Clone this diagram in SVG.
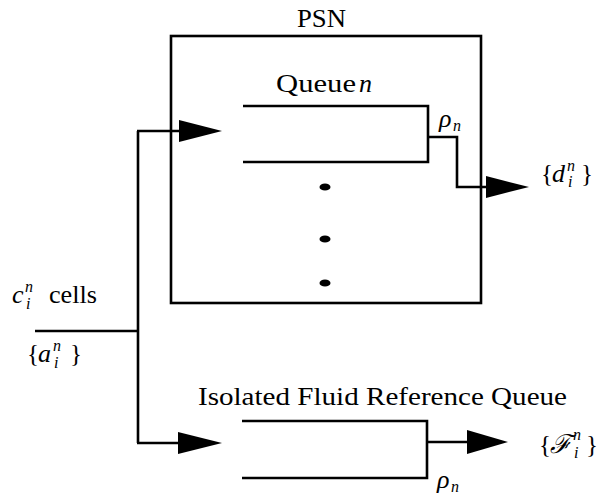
<svg xmlns="http://www.w3.org/2000/svg" width="604" height="494" viewBox="0 0 604 494">
<style>
.ln{fill:none;stroke:#000;stroke-width:2.6;stroke-linejoin:miter}
.t{font-family:"Liberation Serif","Times New Roman",serif;font-size:25px;fill:#000}
.m{font-family:"Liberation Serif","Times New Roman",serif;font-style:italic;font-size:26px;fill:#000}
.s{font-family:"Liberation Serif","Times New Roman",serif;font-style:italic;font-size:16px;fill:#000}
.ah{fill:#000;stroke:none}
.dot{fill:#000}
</style>
<rect width="604" height="494" fill="#fff"/>
<g id="psn">
<rect class="ln" x="171" y="36" width="310" height="267"/>
<text class="t" x="297" y="27" textLength="49" lengthAdjust="spacingAndGlyphs">PSN</text>
<ellipse class="dot" cx="325" cy="187" rx="5.5" ry="3.6"/>
<ellipse class="dot" cx="325" cy="239" rx="5.5" ry="3.6"/>
<ellipse class="dot" cx="325" cy="283" rx="5.5" ry="3.6"/>
</g>
<g id="queue-n">
<path class="ln" d="M243 106H428V162H243"/>
<text class="t" x="276" y="92" textLength="80" lengthAdjust="spacingAndGlyphs">Queue</text>
<text class="m" x="359" y="92">n</text>
<text class="m" x="439" y="127">ρ</text>
<text class="s" x="453" y="131">n</text>
</g>
<g id="ref-queue">
<path class="ln" d="M242 421H427V478H242"/>
<text class="t" x="198" y="405" textLength="369" lengthAdjust="spacingAndGlyphs">Isolated Fluid Reference Queue</text>
<text class="m" x="437" y="488">ρ</text>
<text class="s" x="451" y="492">n</text>
</g>
<g id="input-label">
<text class="m" x="12" y="303">c</text>
<text class="s" x="25" y="292">n</text>
<text class="s" x="26" y="309">i</text>
<text class="t" x="49" y="303" textLength="48" lengthAdjust="spacingAndGlyphs">cells</text>
<text class="t" x="27" y="362">{</text>
<text class="m" x="38" y="362">a</text>
<text class="s" x="53" y="351">n</text>
<text class="s" x="54" y="368">i</text>
<text class="t" x="70" y="362">}</text>
</g>
<g id="output-d">
<text class="t" x="541" y="182">{</text>
<text class="m" x="552" y="182">d</text>
<text class="s" x="567" y="171">n</text>
<text class="s" x="568" y="187">i</text>
<text class="t" x="581" y="182">}</text>
</g>
<g id="output-f">
<text class="t" x="539" y="453">{</text>
<text class="m" x="550" y="453" font-family="DejaVu Serif, serif" font-size="21">ℱ</text>
<text class="s" x="573" y="440">n</text>
<text class="s" x="574" y="458">i</text>
<text class="t" x="586" y="453">}</text>
</g>
<g id="connectors">
<path class="ln" d="M35 331H138"/>
<path class="ln" d="M138 131V443"/>
<path class="ln" d="M137 131H182"/>
<path class="ln" d="M137 443H181"/>
<path class="ln" d="M428 137H457V187H489"/>
<path class="ln" d="M427 442H470"/>
<polygon class="ah" points="179,120 222,131 179,142"/>
<polygon class="ah" points="178,432 222,443 178,454"/>
<polygon class="ah" points="486,176 529,187 486,198"/>
<polygon class="ah" points="467,430 508,442 467,454"/>
</g>
</svg>
